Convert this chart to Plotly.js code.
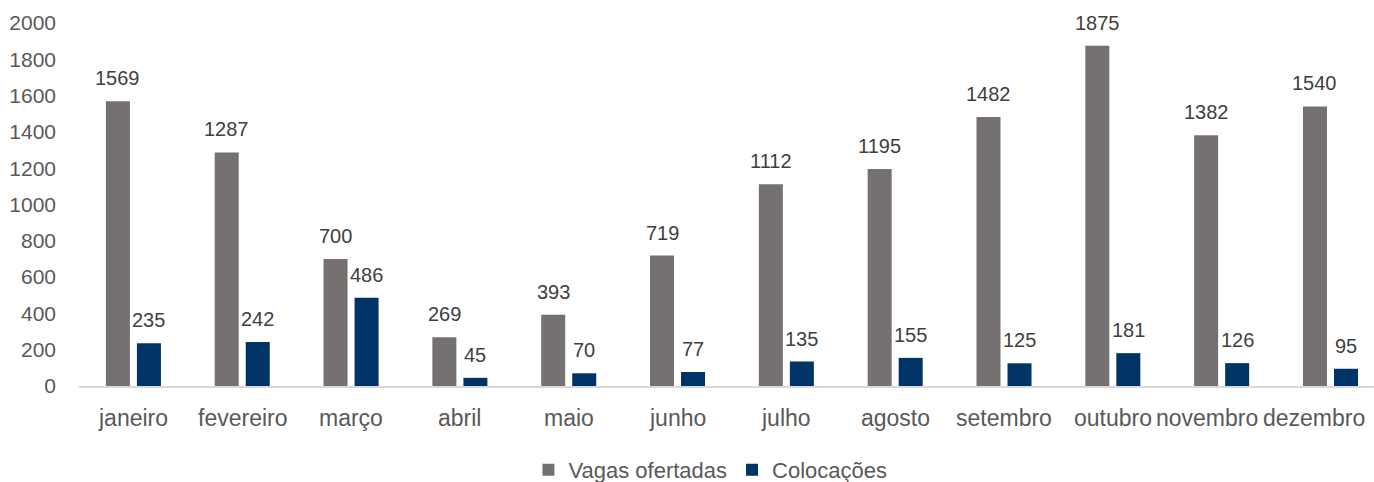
<!DOCTYPE html>
<html>
<head>
<meta charset="utf-8">
<script src="https://cdn.plot.ly/plotly-3.0.1.min.js"></script>
<style>html,body{margin:0;padding:0;background:#fff;}#chart{width:1374px;height:482px;}</style>
</head>
<body>
<div id="chart"></div>
<script>
const months = ["janeiro","fevereiro","março","abril","maio","junho","julho","agosto","setembro","outubro","novembro","dezembro"];
const vagas = [1569,1287,700,269,393,719,1112,1195,1482,1875,1382,1540];
const colocacoes = [235,242,486,45,70,77,135,155,125,181,126,95];
const seriesNames = ["Vagas ofertadas","Colocações"];
const yTicks = [0,200,400,600,800,1000,1200,1400,1600,1800,2000];

const grayC = "#767171", blueC = "#003366";

const traces = [
  {type:"bar", name:seriesNames[0], x:months, y:vagas, marker:{color:grayC}, hoverinfo:"none"},
  {type:"bar", name:seriesNames[1], x:months, y:colocacoes, marker:{color:blueC}, hoverinfo:"none"}
];

const baseFont = "Liberation Sans, Arial, sans-serif";
const labelFont = {family:baseFont, size:20, color:"#404040"};
const annotations = [];
months.forEach((m,i)=>{
  annotations.push({x:m, y:vagas[i], text:String(vagas[i]), showarrow:false, xanchor:"center", yanchor:"bottom", xshift:-15.5, yshift:10, font:labelFont});
  annotations.push({x:m, y:colocacoes[i], text:String(colocacoes[i]), showarrow:false, xanchor:"center", yanchor:"bottom", xshift:15.5, yshift:10, font:labelFont});
  // category label (last two nudged left so they fit, as in the reference)
  const nudge = i===11 ? -16 : (i===10 ? -15 : 0);
  annotations.push({x:m, y:0, text:m, showarrow:false, xanchor:"center", yanchor:"middle", yshift:-32, xshift:nudge,
                    font:{family:baseFont, size:23, color:"#595959"}});
});

const layout = {
  width:1374, height:482,
  margin:{l:79, r:0, t:23, b:96, pad:0},
  paper_bgcolor:"#fff", plot_bgcolor:"#fff",
  barmode:"group", bargap:0.43, bargroupgap:0.226,
  font:{family:baseFont, color:"#595959"},
  xaxis:{range:[-0.5,11.4], showgrid:false, zeroline:false, showline:true, linecolor:"#d9d9d9", linewidth:1.5,
         showticklabels:false, ticks:"", automargin:false, fixedrange:true},
  yaxis:{range:[0,2000], tickvals:yTicks, ticktext:yTicks.map(String), showgrid:false, zeroline:false, showline:false,
         ticks:"", tickfont:{size:21, color:"#595959"}, ticklabelstandoff:22, automargin:false, fixedrange:true},
  showlegend:true,
  legend:{orientation:"h", xref:"paper", x:0.4876, xanchor:"center", yref:"container", y:0.025, yanchor:"middle",
          font:{size:22, color:"#595959"}, itemwidth:30, tracegroupgap:0},
  annotations:annotations
};
Plotly.newPlot("chart", traces, layout, {staticPlot:true, displayModeBar:false});
</script>
</body>
</html>
